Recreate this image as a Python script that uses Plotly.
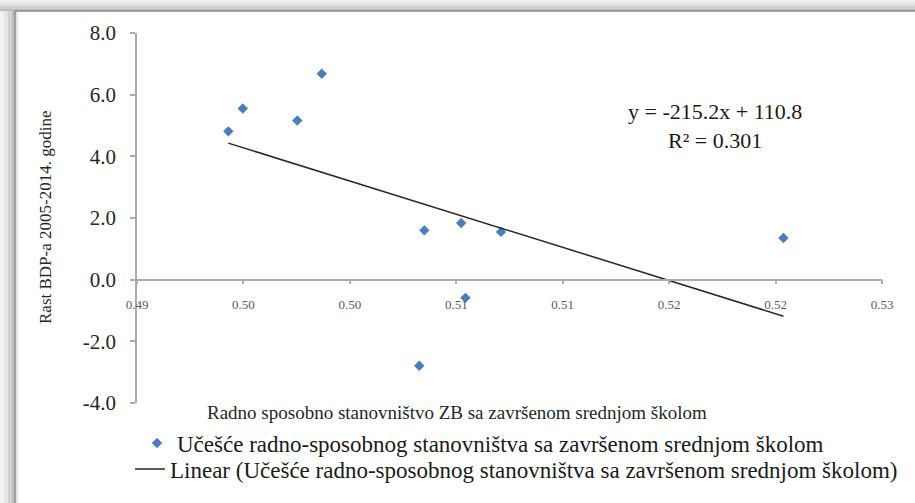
import plotly.graph_objects as go

# ---- data ----
x_share = [0.49429, 0.49497, 0.49753, 0.49868, 0.50350, 0.50523, 0.50710, 0.50543, 0.50326, 0.52037]
y_growth = [4.81, 5.55, 5.16, 6.68, 1.60, 1.84, 1.55, -0.59, -2.79, 1.35]

trend_slope = -215.2
trend_intercept = 110.8
r_squared = 0.301

x_tickvals = [0.49, 0.495, 0.50, 0.505, 0.51, 0.515, 0.52, 0.525]
x_ticktext = ["0.49", "0.50", "0.50", "0.51", "0.51", "0.52", "0.52", "0.53"]
y_tickvals = [-4, -2, 0, 2, 4, 6, 8]
y_ticktext = ["-4.0", "-2.0", "0.0", "2.0", "4.0", "6.0", "8.0"]

series_name = "Učešće radno-sposobnog stanovništva sa završenom srednjom školom"
trend_name = "Linear (Učešće radno-sposobnog stanovništva sa završenom srednjom školom)"
x_title = "Radno sposobno stanovništvo ZB sa završenom srednjom školom"
y_title = "Rast BDP-a 2005-2014. godine"

# ---- layout geometry (pixels) ----
W, H = 915, 503
ML, MR, MT, MB = 137, 33, 33, 100
PW, PH = W - ML - MR, H - MT - MB
X_RANGE = [0.49, 0.525]
Y_RANGE = [-4, 8]


def px(xp):
    return (xp - ML) / PW


def py(yp):
    return (H - MB - yp) / PH


SERIF = "Liberation Serif"

# trend line from the regression equation over the data's x extent
tx = [min(x_share), max(x_share)]
ty = [trend_slope * v + trend_intercept for v in tx]

fig = go.Figure()
fig.add_trace(go.Scatter(
    x=x_share, y=y_growth, mode="markers", name=series_name, legend="legend",
    marker=dict(symbol="diamond", size=8, color="#4a7ebb"),
))
fig.add_trace(go.Scatter(
    x=tx, y=ty, mode="lines", name=trend_name, legend="legend2",
    line=dict(color="#262626", width=1.5),
))

# frame decoration
shapes = []
top_band = [("#ececec", 0, 3), ("#e0e0e0", 3, 6), ("#d0d0d0", 6, 9), ("#bdbdbd", 9, 11)]
for c, a, b in top_band:
    shapes.append(dict(type="rect", xref="paper", yref="paper", layer="below",
                       x0=px(0), x1=px(W), y0=py(a), y1=py(b), fillcolor=c, line=dict(width=0)))
left_band = [("#f2f2f2", 0, 4), ("#e4e4e4", 4, 8), ("#d2d2d2", 8, 12), ("#bdbdbd", 12, 15)]
for c, a, b in left_band:
    shapes.append(dict(type="rect", xref="paper", yref="paper", layer="below",
                       x0=px(a), x1=px(b), y0=py(11), y1=py(H), fillcolor=c, line=dict(width=0)))
shapes.append(dict(type="line", xref="paper", yref="paper", layer="below",
                   x0=px(15), x1=px(W), y0=py(11), y1=py(11), line=dict(color="#8a8a8a", width=1.5)))
shapes.append(dict(type="line", xref="paper", yref="paper", layer="below",
                   x0=px(15), x1=px(15), y0=py(11), y1=py(H), line=dict(color="#8a8a8a", width=1.5)))
shapes.append(dict(type="line", xref="paper", yref="paper", layer="below",
                   x0=px(17), x1=px(17), y0=py(12), y1=py(H), line=dict(color="#c8c8c8", width=1)))

zero_pos = (0 - Y_RANGE[0]) / (Y_RANGE[1] - Y_RANGE[0])

legend_font = dict(family=SERIF, size=23, color="#1a1a1a")

fig.update_layout(
    width=W, height=H,
    margin=dict(l=ML, r=MR, t=MT, b=MB, autoexpand=False),
    paper_bgcolor="white", plot_bgcolor="rgba(0,0,0,0)",
    shapes=shapes,
    xaxis=dict(
        range=X_RANGE, tickvals=x_tickvals, ticktext=x_ticktext,
        showgrid=False, zeroline=False, showline=True, linecolor="#ababab", linewidth=1.5,
        ticks="outside", ticklen=4, tickcolor="#ababab", tickwidth=1.5,
        anchor="free", position=zero_pos,
        tickfont=dict(family=SERIF, size=13, color="#595959"),
        ticklabelstandoff=9,
    ),
    yaxis=dict(
        range=Y_RANGE, tickvals=y_tickvals, ticktext=y_ticktext,
        showgrid=False, zeroline=False, showline=True, linecolor="#ababab", linewidth=1.5,
        ticks="outside", ticklen=5, tickcolor="#ababab", tickwidth=1.5,
        tickfont=dict(family=SERIF, size=21, color="#262626"),
        ticklabelstandoff=10,
    ),
    showlegend=True,
    legend=dict(
        x=px(137), xanchor="left", y=py(443), yanchor="middle",
        bgcolor="rgba(0,0,0,0)", font=legend_font,
    ),
    legend2=dict(
        x=px(130), xanchor="left", y=py(469), yanchor="middle",
        bgcolor="rgba(0,0,0,0)", font=legend_font,
    ),
    annotations=[
        dict(text=f"y = {trend_slope}x + {trend_intercept}<br>R² = {r_squared}",
             xref="paper", yref="paper", x=px(715), y=py(126.5), xanchor="center", yanchor="middle",
             showarrow=False, align="center", font=dict(family=SERIF, size=22, color="#1a1a1a")),
        dict(text=x_title, xref="paper", yref="paper", x=px(457), y=py(412),
             xanchor="center", yanchor="middle", showarrow=False,
             font=dict(family=SERIF, size=19, color="#262626")),
        dict(text=y_title, xref="paper", yref="paper", x=px(45), y=0.5, textangle=-90,
             xanchor="center", yanchor="middle", showarrow=False,
             font=dict(family=SERIF, size=17, color="#262626")),
    ],
)

fig.write_html(
    "out.html", config={"displayModeBar": False},
    post_script="document.body.style.margin='0';document.body.style.overflow='hidden';"
                "document.documentElement.style.overflow='hidden';",
)
